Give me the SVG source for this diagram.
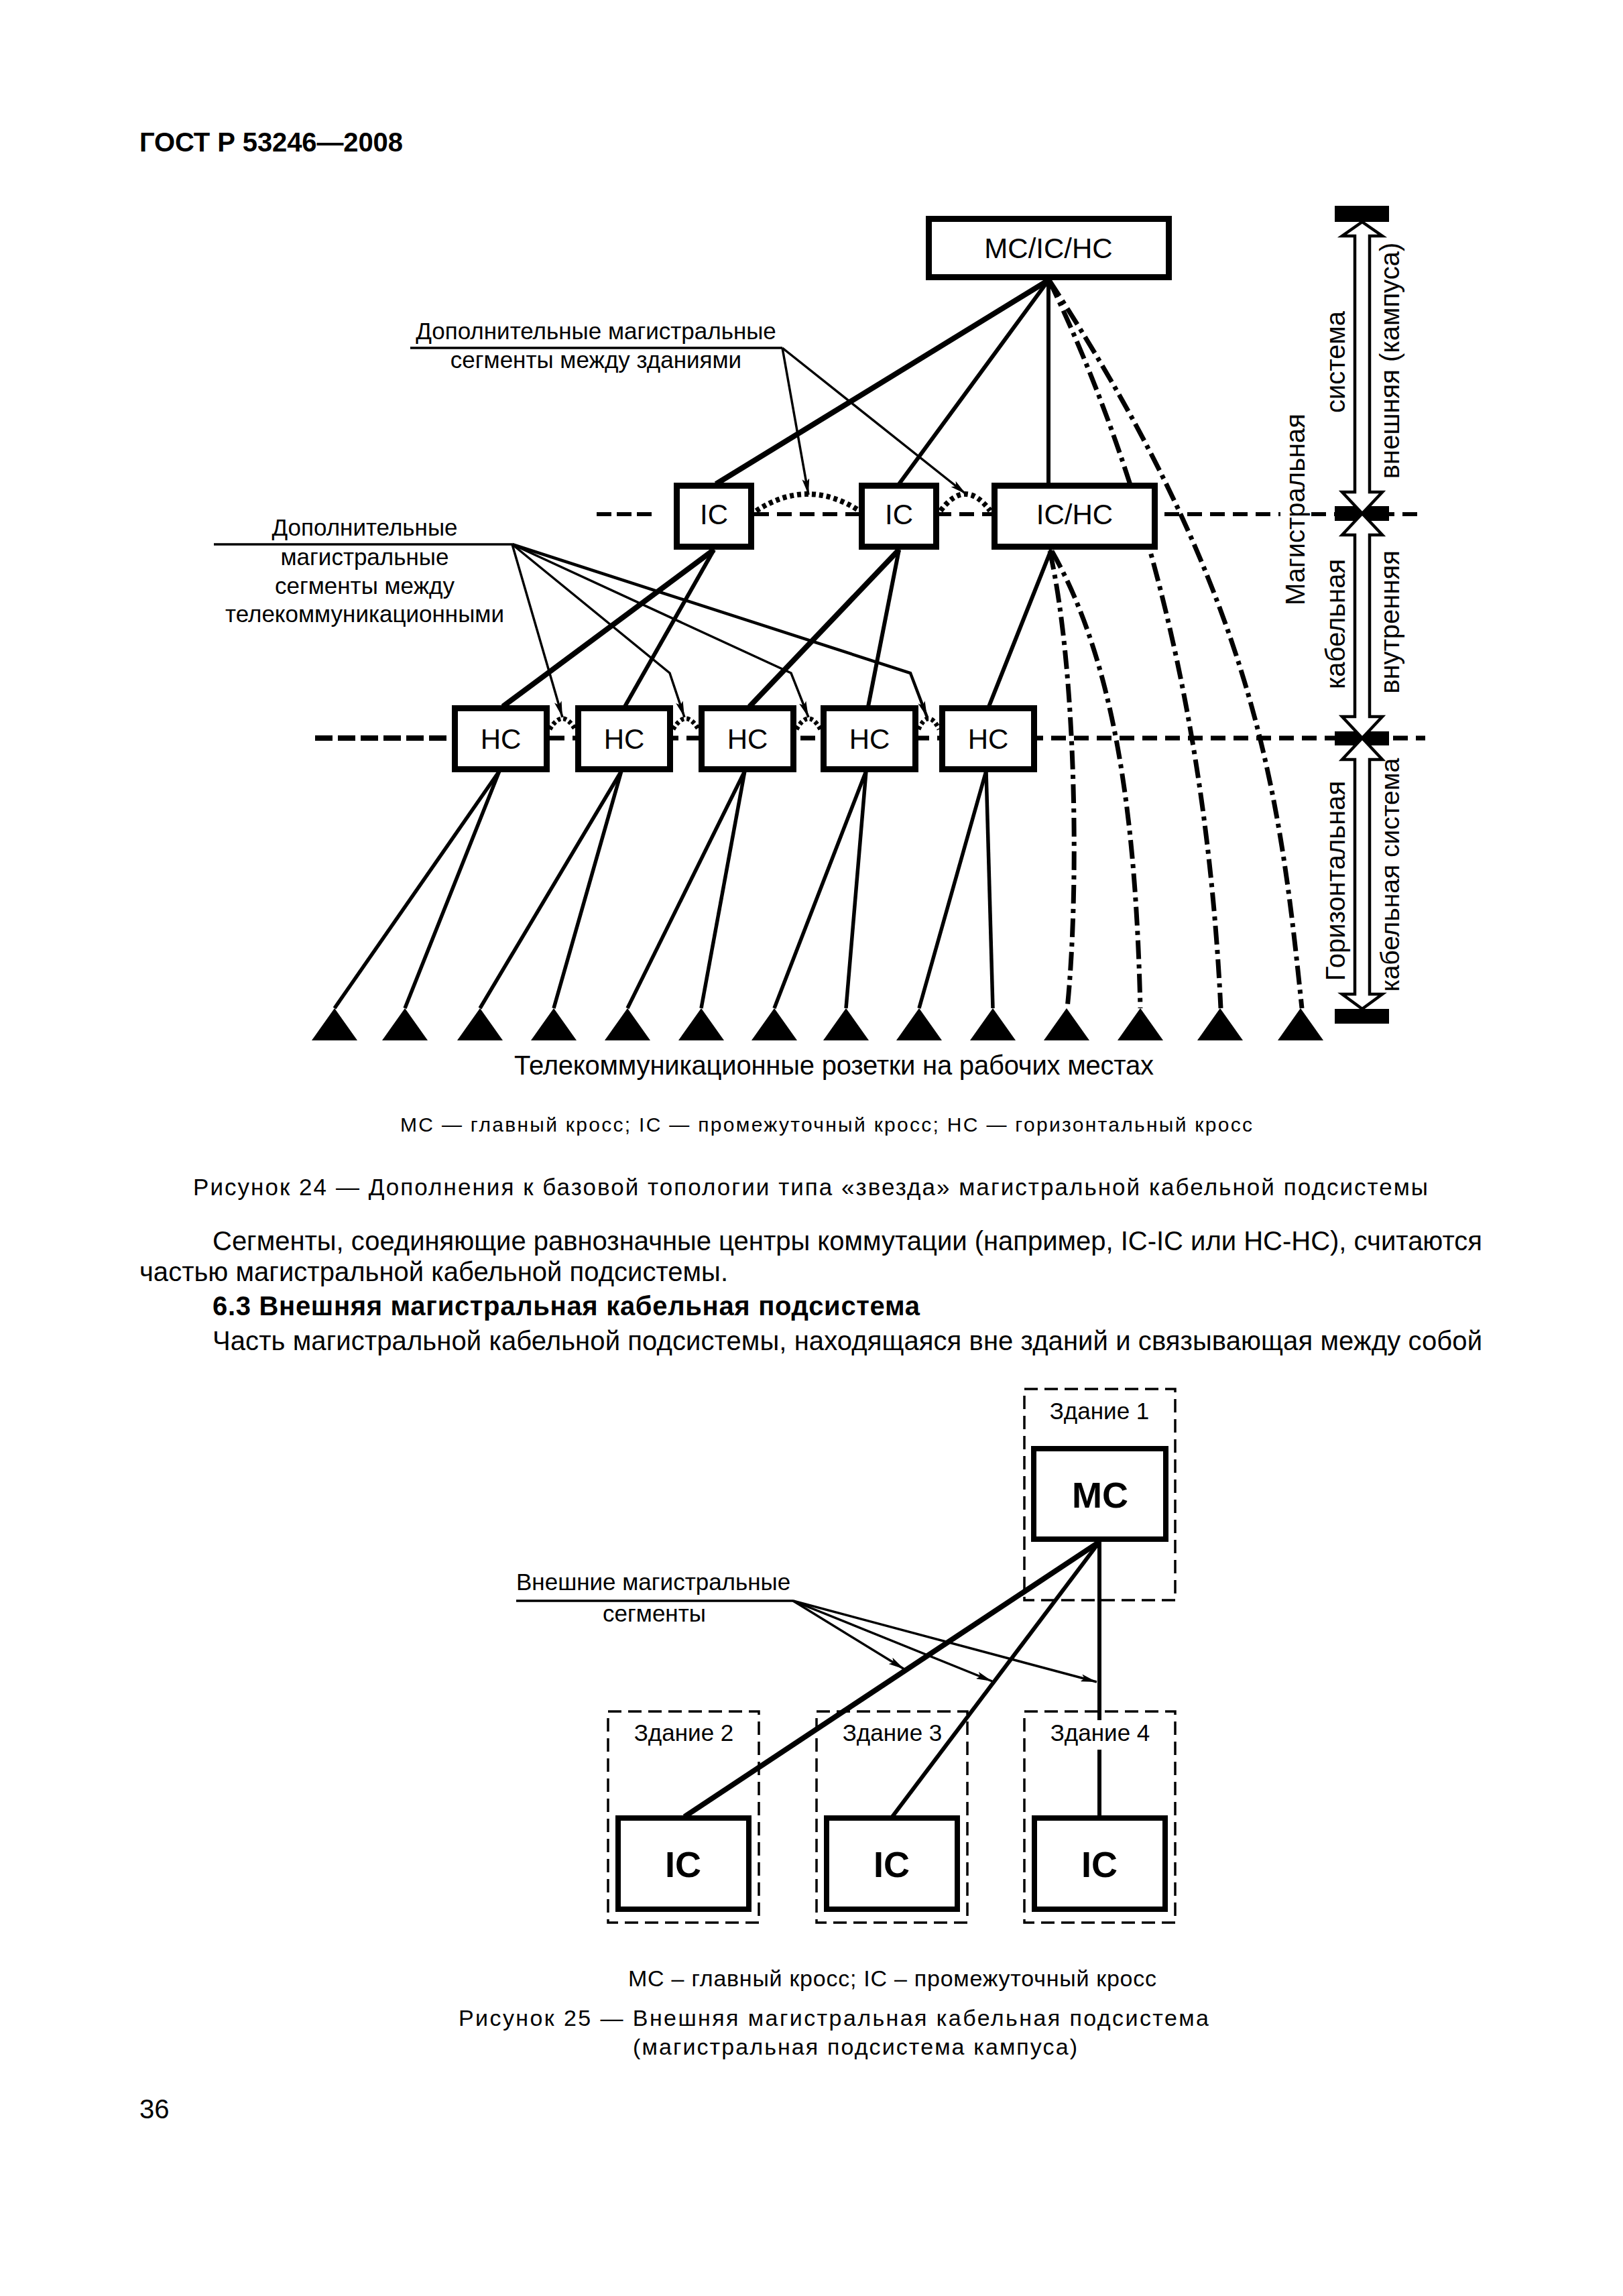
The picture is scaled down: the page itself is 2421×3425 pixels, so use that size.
<svg xmlns="http://www.w3.org/2000/svg" width="2421" height="3425" viewBox="0 0 2421 3425">
<defs>
<style>
text { font-family: "Liberation Sans", Arial, sans-serif; fill: #000; }
.box { fill: #fff; stroke: #000; stroke-width: 9; }
.box25 { fill: #fff; stroke: #000; stroke-width: 8; }
.bld { fill: none; stroke: #000; stroke-width: 3.5; stroke-dasharray: 20 10; }
.ln { stroke: #000; fill: none; }
.thick { stroke-width: 8; }
.med { stroke-width: 6; }
.hz { stroke-width: 5.5; }
.thin { stroke-width: 3.5; }
.dd { fill: none; stroke: #000; stroke-width: 7; stroke-dasharray: 28 8 6 8; }
.dotarc { fill: none; stroke: #000; stroke-width: 8; stroke-dasharray: 6 5; }
.dotarc2 { fill: none; stroke: #000; stroke-width: 7; stroke-dasharray: 5 4; }
.dashic { stroke: #000; stroke-width: 6; stroke-dasharray: 22 12; }
.dashhc { stroke: #000; stroke-width: 7; stroke-dasharray: 22 12; }
.bar { fill: #000; }
.darrow { fill: #fff; stroke: #000; stroke-width: 4.5; stroke-linejoin: miter; }
.lbl { font-size: 35px; }
.vt { font-size: 40px; text-anchor: middle; }
.bx { font-size: 42px; text-anchor: middle; }
.bx25 { font-size: 54px; font-weight: bold; text-anchor: middle; }
.to { fill: #000; }
</style>
<marker id="ah" viewBox="0 0 24 11" refX="24" refY="5.5" markerWidth="24" markerHeight="11" markerUnits="userSpaceOnUse" orient="auto">
<path d="M0,0 L24,5.5 L0,11 L5,5.5 Z" fill="#000"/>
</marker>
</defs>
<rect width="2421" height="3425" fill="#fff"/>

<text id="header" x="208" y="226" font-size="40" font-weight="bold" textLength="393">ГОСТ Р 53246—2008</text>

<!-- ===== Figure 24 ===== -->
<g id="connectors">
  <!-- horizontal dashed levels -->
  <line class="dashic" x1="890" y1="767" x2="972" y2="767" style="stroke-dasharray:22 8"/>
  <line class="dashic" x1="1125" y1="767" x2="1910" y2="767"/>
  <line class="dashic" x1="1956" y1="767" x2="2126" y2="767"/>
  <line class="dashhc" x1="470" y1="1101" x2="674" y2="1101" style="stroke-width:8;stroke-dasharray:26 8"/>
  <line class="dashhc" x1="820" y1="1101" x2="2126" y2="1101"/>
  <!-- dash-dot direct horizontal links -->
  <path class="dd" d="M1566,822 C1606,1000 1610,1330 1592,1504"/>
  <path class="dd" d="M1569,822 C1670,1000 1695,1250 1701,1504"/>
  <path class="dd" d="M1565,418 C1737,778 1804,1153 1821,1504"/>
  <path class="dd" d="M1565,418 C1880,900 1910,1200 1942,1504"/>
  <!-- backbone -->
  <line class="ln thick" x1="1564" y1="418" x2="1068" y2="722"/>
  <line class="ln med" x1="1564" y1="418" x2="1341" y2="722"/>
  <line class="ln med" x1="1564" y1="418" x2="1564" y2="722"/>
  <line class="ln thick" x1="1065" y1="820" x2="750" y2="1054"/>
  <line class="ln med" x1="1065" y1="820" x2="932" y2="1054"/>
  <line class="ln thick" x1="1341" y1="820" x2="1118" y2="1054"/>
  <line class="ln med" x1="1341" y1="820" x2="1295" y2="1054"/>
  <line class="ln med" x1="1568" y1="820" x2="1475" y2="1054"/>
  <!-- horizontal cabling -->
  <line class="ln hz" x1="745" y1="1150" x2="499" y2="1504"/>
  <line class="ln hz" x1="745" y1="1150" x2="604" y2="1504"/>
  <line class="ln hz" x1="927" y1="1150" x2="716" y2="1504"/>
  <line class="ln hz" x1="927" y1="1150" x2="826" y2="1504"/>
  <line class="ln hz" x1="1111" y1="1150" x2="936" y2="1504"/>
  <line class="ln hz" x1="1111" y1="1150" x2="1046" y2="1504"/>
  <line class="ln hz" x1="1292" y1="1150" x2="1155" y2="1504"/>
  <line class="ln hz" x1="1292" y1="1150" x2="1262" y2="1504"/>
  <line class="ln hz" x1="1471" y1="1150" x2="1371" y2="1504"/>
  <line class="ln hz" x1="1471" y1="1150" x2="1481" y2="1504"/>
</g>

<g id="node-mc-ic-hc"><rect class="box" x="1385.5" y="326.5" width="358" height="87"/><text class="bx" x="1564" y="385">MC/IC/HC</text></g>
<g id="node-ic1"><rect class="box" x="1009.5" y="724.5" width="111" height="91"/><text class="bx" x="1065" y="782">IC</text></g>
<g id="node-ic2"><rect class="box" x="1285.5" y="724.5" width="111" height="91"/><text class="bx" x="1341" y="782">IC</text></g>
<g id="node-ic-hc"><rect class="box" x="1483.5" y="724.5" width="239" height="91"/><text class="bx" x="1603" y="782">IC/HC</text></g>
<g id="node-hc1"><rect class="box" x="678.5" y="1056.5" width="137" height="91"/><text class="bx" x="747" y="1117">HC</text></g>
<g id="node-hc2"><rect class="box" x="862.5" y="1056.5" width="137" height="91"/><text class="bx" x="931" y="1117">HC</text></g>
<g id="node-hc3"><rect class="box" x="1046.5" y="1056.5" width="137" height="91"/><text class="bx" x="1115" y="1117">HC</text></g>
<g id="node-hc4"><rect class="box" x="1228.5" y="1056.5" width="137" height="91"/><text class="bx" x="1297" y="1117">HC</text></g>
<g id="node-hc5"><rect class="box" x="1405.5" y="1056.5" width="137" height="91"/><text class="bx" x="1474" y="1117">HC</text></g>

<g id="peer-links">
  <path class="dotarc" d="M1128,762 Q1205,712 1282,762"/>
  <path class="dotarc" d="M1403,762 Q1440,712 1477,762"/>
  <path class="dotarc2" d="M820,1088 Q839,1056 858,1088"/>
  <path class="dotarc2" d="M1004,1088 Q1023,1056 1042,1088"/>
  <path class="dotarc2" d="M1188,1088 Q1206,1056 1224,1088"/>
  <path class="dotarc2" d="M1370,1088 Q1385,1056 1401,1088"/>
</g>

<g id="outlets">
  <polygon class="to" points="499,1504 465,1552 533,1552"/>
  <polygon class="to" points="604,1504 570,1552 638,1552"/>
  <polygon class="to" points="716,1504 682,1552 750,1552"/>
  <polygon class="to" points="826,1504 792,1552 860,1552"/>
  <polygon class="to" points="936,1504 902,1552 970,1552"/>
  <polygon class="to" points="1046,1504 1012,1552 1080,1552"/>
  <polygon class="to" points="1155,1504 1121,1552 1189,1552"/>
  <polygon class="to" points="1262,1504 1228,1552 1296,1552"/>
  <polygon class="to" points="1371,1504 1337,1552 1405,1552"/>
  <polygon class="to" points="1481,1504 1447,1552 1515,1552"/>
  <polygon class="to" points="1591,1504 1557,1552 1625,1552"/>
  <polygon class="to" points="1701,1504 1667,1552 1735,1552"/>
  <polygon class="to" points="1820,1504 1786,1552 1854,1552"/>
  <polygon class="to" points="1940,1504 1906,1552 1974,1552"/>
  <text x="767" y="1603" font-size="40" textLength="954">Телекоммуникационные розетки на рабочих местах</text>
</g>

<g id="label-buildings">
  <text class="lbl" x="889" y="506" text-anchor="middle">Дополнительные магистральные</text>
  <text class="lbl" x="889" y="549" text-anchor="middle">сегменты между зданиями</text>
  <line class="ln thin" x1="612" y1="519" x2="1167" y2="519"/>
  <line class="ln thin" x1="1167" y1="519" x2="1206" y2="738" marker-end="url(#ah)"/>
  <line class="ln thin" x1="1167" y1="519" x2="1441" y2="737" marker-end="url(#ah)"/>
</g>

<g id="label-telecom-rooms">
  <text class="lbl" x="544" y="799" text-anchor="middle">Дополнительные</text>
  <text class="lbl" x="544" y="843" text-anchor="middle">магистральные</text>
  <text class="lbl" x="544" y="886" text-anchor="middle">сегменты между</text>
  <text class="lbl" x="544" y="928" text-anchor="middle">телекоммуникационными</text>
  <line class="ln thin" x1="319" y1="812" x2="764" y2="812"/>
  <path class="ln thin" d="M764,812 L839,1070" marker-end="url(#ah)"/>
  <path class="ln thin" d="M764,812 L999,1004 L1021,1070" marker-end="url(#ah)"/>
  <path class="ln thin" d="M764,812 L1180,1004 L1206,1070" marker-end="url(#ah)"/>
  <path class="ln thin" d="M764,812 L1358,1004 L1383,1070" style="stroke-width:4.5" marker-end="url(#ah)"/>
</g>

<g id="scale">
  <rect class="bar" x="1991" y="307" width="81" height="24"/>
  <rect class="bar" x="1991" y="755" width="81" height="22"/>
  <rect class="bar" x="1991" y="1091" width="81" height="21"/>
  <rect class="bar" x="1991" y="1505" width="81" height="22"/>
  <polygon class="darrow" points="2032,331 2062,352 2043,352 2043,734 2062,734 2032,766 2002,734 2021,734 2021,352 2002,352"/>
  <polygon class="darrow" points="2032,766 2062,798 2043,798 2043,1069 2062,1069 2032,1101 2002,1069 2021,1069 2021,798 2002,798"/>
  <polygon class="darrow" points="2032,1101 2062,1133 2043,1133 2043,1483 2062,1483 2032,1505 2002,1483 2021,1483 2021,1133 2002,1133"/>
  <text class="vt" transform="translate(1946,760) rotate(-90)">Магистральная</text>
  <text class="vt" transform="translate(2006,540) rotate(-90)">система</text>
  <text class="vt" transform="translate(2006,931) rotate(-90)">кабельная</text>
  <text class="vt" transform="translate(2006,1314) rotate(-90)">Горизонтальная</text>
  <text class="vt" transform="translate(2087,538) rotate(-90)">внешняя (кампуса)</text>
  <text class="vt" transform="translate(2087,928) rotate(-90)">внутренняя</text>
  <text class="vt" transform="translate(2087,1305) rotate(-90)" style="font-size:39px">кабельная система</text>
</g>

<text x="597" y="1688" font-size="30" textLength="1271">MC — главный кросс; IC — промежуточный кросс; HC — горизонтальный кросс</text>
<text x="288" y="1783" font-size="35" textLength="1842">Рисунок 24 — Дополнения к базовой топологии типа «звезда» магистральной кабельной подсистемы</text>

<text x="317" y="1865" font-size="40" textLength="1894">Сегменты, соединяющие равнозначные центры коммутации (например, IC-IC или HC-HC), считаются</text>
<text x="208" y="1911" font-size="40" textLength="878">частью магистральной кабельной подсистемы.</text>
<text x="317" y="1962" font-size="40" font-weight="bold" textLength="1055">6.3 Внешняя магистральная кабельная подсистема</text>
<text x="317" y="2014" font-size="40" textLength="1894">Часть магистральной кабельной подсистемы, находящаяся вне зданий и связывающая между собой</text>

<!-- ===== Figure 25 ===== -->
<g id="connectors-25">
  <line class="ln thick" x1="1640" y1="2300" x2="1021" y2="2710"/>
  <line class="ln med" x1="1640" y1="2300" x2="1331" y2="2710"/>
  <line class="ln med" x1="1640" y1="2300" x2="1640" y2="2566"/>
  <line class="ln med" x1="1640" y1="2610" x2="1640" y2="2710"/>
</g>
<g id="building1"><rect class="bld" x="1528" y="2072" width="225" height="315"/><text class="lbl" x="1640" y="2117" text-anchor="middle">Здание 1</text></g>
<g id="building2"><rect class="bld" x="907" y="2553" width="225" height="315"/><text class="lbl" x="1020" y="2597" text-anchor="middle">Здание 2</text></g>
<g id="building3"><rect class="bld" x="1218" y="2553" width="225" height="315"/><text class="lbl" x="1331" y="2597" text-anchor="middle">Здание 3</text></g>
<g id="building4"><rect class="bld" x="1528" y="2553" width="225" height="315"/><text class="lbl" x="1641" y="2597" text-anchor="middle">Здание 4</text></g>
<g id="node25-mc"><rect class="box25" x="1542" y="2161" width="197" height="135"/><text class="bx25" x="1641" y="2249">MC</text></g>
<g id="node25-ic2"><rect class="box25" x="922" y="2712" width="195" height="136"/><text class="bx25" x="1019" y="2800">IC</text></g>
<g id="node25-ic3"><rect class="box25" x="1233" y="2712" width="195" height="136"/><text class="bx25" x="1330" y="2800">IC</text></g>
<g id="node25-ic4"><rect class="box25" x="1543" y="2712" width="195" height="136"/><text class="bx25" x="1640" y="2800">IC</text></g>

<g id="label-external">
  <text class="lbl" x="770" y="2372">Внешние магистральные</text>
  <text class="lbl" x="976" y="2419" text-anchor="middle">сегменты</text>
  <line class="ln thin" x1="770" y1="2388" x2="1183" y2="2388"/>
  <line class="ln thin" x1="1183" y1="2388" x2="1349" y2="2490" marker-end="url(#ah)"/>
  <line class="ln thin" x1="1183" y1="2388" x2="1480" y2="2508" marker-end="url(#ah)"/>
  <line class="ln thin" x1="1183" y1="2388" x2="1636" y2="2509" marker-end="url(#ah)"/>
</g>

<text x="937" y="2963" font-size="34" textLength="788">MC – главный кросс; IC – промежуточный кросс</text>
<text x="684" y="3022" font-size="34" textLength="1119">Рисунок 25 — Внешняя магистральная кабельная подсистема</text>
<text x="944" y="3065" font-size="34" textLength="663">(магистральная подсистема кампуса)</text>

<text x="208" y="3160" font-size="40">36</text>
</svg>
